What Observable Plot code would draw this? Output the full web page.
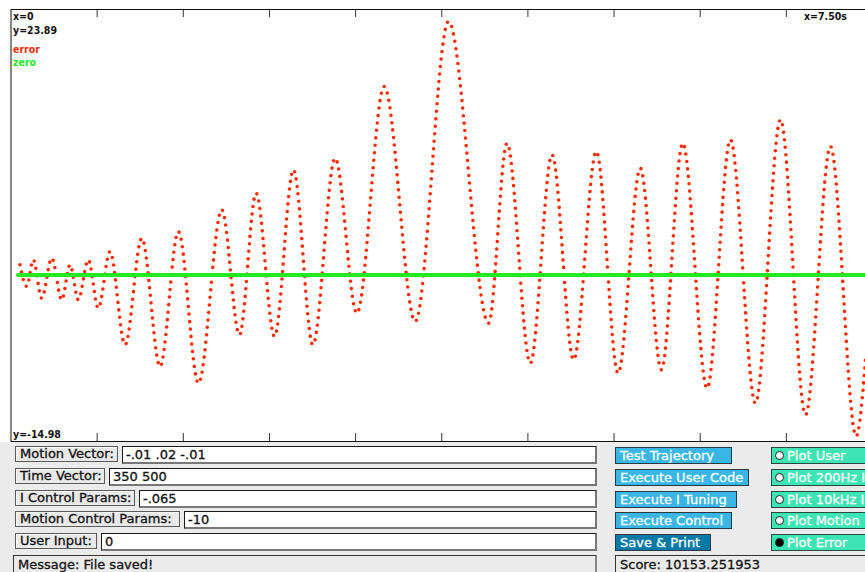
<!DOCTYPE html>
<html>
<head>
<meta charset="utf-8">
<script src="https://cdn.jsdelivr.net/npm/d3@7"></script>
<script src="https://cdn.jsdelivr.net/npm/@observablehq/plot@0.6"></script>
<style>
  html, body { margin: 0; padding: 0; background: #ffffff; }
  #page { position: relative; width: 865px; height: 572px; overflow: hidden; background: #ffffff;
          font-family: "DejaVu Sans", sans-serif; }
  #chart { position: absolute; left: 0; top: 0; width: 865px; height: 442px; overflow: hidden; }
  #panel { position: absolute; left: 0; top: 442px; width: 865px; height: 130px; background: #ebebeb; }
  .el { position: absolute; box-sizing: border-box; font-size: 13px; white-space: nowrap; overflow: hidden;
        -webkit-text-stroke: 0.3px currentColor; }
  .lbl { background: #e9e9e9; border: 1px solid #5a5a5a; box-shadow: inset 1px 1px 0 #fafafa;
         color: #111; line-height: 14px; padding-left: 4px; height: 16px; }
  .inp { background: #ffffff; border-top: 1px solid #1a1a1a; border-left: 1px solid #1a1a1a;
         border-right: 2px solid #777; border-bottom: 2px solid #777; color: #111; line-height: 15px; padding-left: 3px; height: 18px; }
  .msg { background: #ebebeb; border-top: 1px solid #333; border-left: 1px solid #333;
         border-right: 2px solid #888; color: #111; line-height: 17px; padding-left: 4px; height: 20px; }
  .btn { background: #39b6e6; border: 1px solid #2a3a44; color: #ffffff; line-height: 15px; padding-left: 4px; height: 17px; }
  .btn.dark { background: #0679a6; }
  .tog { background: #3ee5b4; border: 1px solid #2a4a40; color: #ffffff; line-height: 15px; padding-left: 15px; height: 17px; width: 120px; }
  .tog .dot { position: absolute; left: 3px; top: 3px; width: 9px; height: 9px; box-sizing: border-box; border-radius: 50%;
              background: #ffffff; border: 1px solid #222; -webkit-text-stroke: 0; }
  .tog .dot.on { background: #000000; }
</style>
</head>
<body>
<div id="page">
  <div id="chart"></div>
  <div id="panel"></div>
</div>
<script>
// ---- data ----
const errT = [0.078,0.137,0.194,0.267,0.355,0.442,0.514,0.586,0.673,0.760,0.862,0.993,1.139,1.298,1.457,1.632,1.835,1.989,2.134,2.294,2.459,2.628,2.822,3.011,3.249,3.519,3.809,4.158,4.318,4.521,4.710,4.898,5.096,5.285,5.479,5.662,5.848,6.060,6.263,6.481,6.699,6.917,7.134,7.358,7.439];
const errV = [0.92,-1.03,1.37,-2.09,1.51,-2.23,0.92,-2.23,1.37,-2.99,2.11,-6.28,3.31,-8.23,3.91,-9.74,5.87,-5.38,7.36,-5.53,9.47,-6.28,10.51,-3.44,16.96,-4.18,22.81,-4.34,11.86,-7.94,10.82,-7.63,11.11,-8.84,9.61,-8.53,11.86,-10.19,12.17,-11.54,13.97,-12.58,11.57,-14.5,-7.63];
const zeroT = [0.06, 7.5];
const zeroV = [0, 0];
const tickT = [0.75, 1.5, 2.25, 3.0, 3.75, 4.5, 5.25, 6.0, 6.75, 7.5];
const xMax = 7.5;
const yMin = -14.98, yMax = 23.89;

const rowLabels = ["Motion Vector:", "Time Vector:", "I Control Params:", "Motion Control Params:", "User Input:"];
const rowValues = ["-.01 .02 -.01", "350 500", "-.065", "-10", "0"];
const message = "Message: File saved!";
const buttons = ["Test Trajectory", "Execute User Code", "Execute I Tuning", "Execute Control", "Save & Print"];
const toggles = ["Plot User", "Plot 200Hz I", "Plot 10kHz I", "Plot Motion", "Plot Error"];
const toggleOn = [false, false, false, false, true];
const score = "Score: 10153.251953";

// ---- chart ----
const err = errT.map((t, i) => ({t, v: errV[i]}));
const zero = zeroT.map((t, i) => ({t, v: zeroV[i]}));
const H = 442, mT = 9, mB = 1;
const plotH = H - mT - mB;

const lbl = {fontFamily: "DejaVu Sans Condensed, DejaVu Sans", fontSize: 10.5, fontWeight: "bold", textAnchor: "start", lineAnchor: "bottom"};

const chart = Plot.plot({
  width: 880, height: H,
  marginLeft: 10.5, marginRight: 8, marginTop: mT, marginBottom: mB,
  style: {background: "#ffffff", maxWidth: "none", fontFamily: "DejaVu Sans Condensed, DejaVu Sans"},
  x: {domain: [0, xMax], axis: null},
  y: {domain: [yMin, yMax], axis: null},
  marks: [
    Plot.ruleX(tickT, {x: d => d, stroke: "#333", strokeWidth: 1, insetBottom: plotH - 8}),
    Plot.ruleX(tickT, {x: d => d, stroke: "#333", strokeWidth: 1, insetTop: plotH - 8}),
    Plot.line(err, {x: "t", y: "v", curve: "monotone-x", stroke: "#ff2a00", strokeWidth: 3.6,
                    strokeDasharray: "0 7.5", strokeLinecap: "round"}),
    Plot.line(zero, {x: "t", y: "v", stroke: "#22ea22", strokeWidth: 4}),
    Plot.frame({stroke: "#111", strokeWidth: 1}),
    Plot.text(["x=0"], {...lbl, frameAnchor: "top-left", dx: 2, dy: 10, fill: "#111"}),
    Plot.text(["y=23.89"], {...lbl, frameAnchor: "top-left", dx: 2, dy: 24, fill: "#111"}),
    Plot.text(["error"], {...lbl, frameAnchor: "top-left", dx: 2, dy: 43, fill: "#ff2a00"}),
    Plot.text(["zero"], {...lbl, frameAnchor: "top-left", dx: 2, dy: 56, fill: "#22ea22"}),
    Plot.text(["x=7.50s"], {...lbl, frameAnchor: "top-left", dx: 793, dy: 10, fill: "#111"}),
    Plot.text(["y=-14.98"], {...lbl, frameAnchor: "bottom-left", dx: 2, dy: -3.5, fill: "#111"})
  ]
});
document.getElementById("chart").appendChild(chart);

// ---- control panel ----
const panel = document.getElementById("panel");
const rowTops = [4, 26, 48, 69, 91, 113]; // relative to panel top
const lblW = [103, 90, 120, 165, 82];
function el(cls, left, top, width, html) {
  const d = document.createElement("div");
  d.className = "el " + cls;
  d.style.left = left + "px"; d.style.top = top + "px";
  if (width != null) d.style.width = width + "px";
  d.innerHTML = html;
  panel.appendChild(d);
  return d;
}
const esc = s => s.replace(/&/g, "&amp;");
rowLabels.forEach((s, i) => {
  el("lbl", 15, rowTops[i], lblW[i], esc(s));
  const inLeft = 15 + lblW[i] + 4;
  el("inp", inLeft, rowTops[i], 597 - inLeft, esc(rowValues[i]));
});
el("msg", 13, rowTops[5], 584, esc(message));
const btnW = [117, 134, 122, 117, 96];
buttons.forEach((s, i) => {
  el("btn" + (i === 4 ? " dark" : ""), 615, rowTops[i] + 1, btnW[i], esc(s));
});
el("msg", 615, rowTops[5], 270, esc(score));
toggles.forEach((s, i) => {
  el("tog", 771, rowTops[i] + 1, null, '<span class="dot' + (toggleOn[i] ? " on" : "") + '"></span>' + esc(s));
});
</script>
</body>
</html>
